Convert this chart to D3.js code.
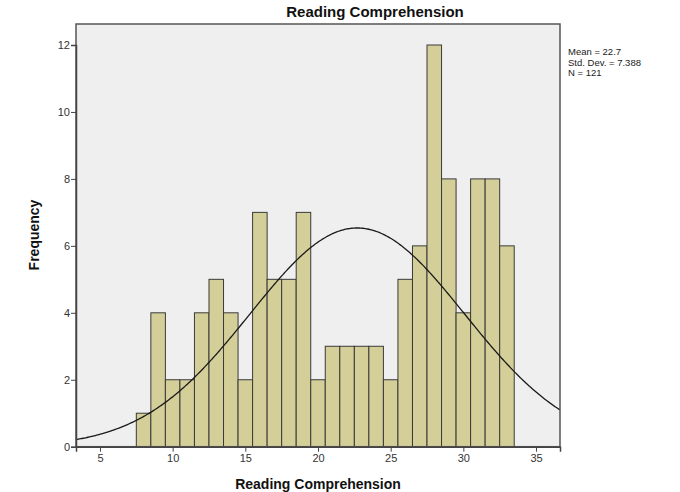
<!DOCTYPE html>
<html><head><meta charset="utf-8">
<script src="https://cdn.jsdelivr.net/npm/d3@7"></script>
<style>body{margin:0;background:#fff}svg{display:block}text{font-family:Arial,"Liberation Sans",sans-serif}</style>
</head><body><svg id="c" width="680" height="492"></svg>
<script>
const binCenters = [8,9,10,11,12,13,14,15,16,17,18,19,20,21,22,23,24,25,26,27,28,29,30,31,32,33];
const frequencies = [1,4,2,2,4,5,4,2,7,5,5,7,2,3,3,3,3,2,5,6,12,8,4,8,8,6];
const xTicks = [5,10,15,20,25,30,35];
const yTicks = [0,2,4,6,8,10,12];
const statLines = ["Mean = 22.7","Std. Dev. = 7.388","N = 121"];
const mean = 22.7, sd = 7.388, n = 121, binWidth = 1;

const svg = d3.select("#c");
const L = 76, R = 560, T = 24, B = 446.7;
const x = d3.scaleLinear().domain([3.35, 36.65]).range([L, R]);
const y = d3.scaleLinear().domain([0, 12]).range([B, 45]);

svg.append("rect").attr("x", L).attr("y", T).attr("width", R - L).attr("height", B - T)
  .attr("fill", "#efefef");

svg.selectAll("rect.bar").data(binCenters).enter().append("rect").attr("class","bar")
  .attr("x", (d) => x(d - binWidth/2))
  .attr("width", (d) => x(d + binWidth/2) - x(d - binWidth/2))
  .attr("y", (d, i) => y(frequencies[i]))
  .attr("height", (d, i) => y(0) - y(frequencies[i]))
  .attr("fill", "#d4cf98").attr("stroke", "#3a3a3a").attr("stroke-width", 1);

const pdf = (v) => n * binWidth * Math.exp(-0.5 * ((v - mean) / sd) ** 2) / (sd * Math.sqrt(2 * Math.PI));
const xs = d3.range(0, 401).map(i => 3.35 + (36.65 - 3.35) * i / 400);
svg.append("path").datum(xs)
  .attr("d", d3.line().x(d => x(d)).y(d => y(pdf(d))))
  .attr("fill", "none").attr("stroke", "#1a1a1a").attr("stroke-width", 1.3);

svg.append("rect").attr("x", L).attr("y", T).attr("width", R - L).attr("height", B - T)
  .attr("fill", "none").attr("stroke", "#555").attr("stroke-width", 1.5);

const xAxis = svg.append("g").attr("transform", `translate(0,${B})`)
  .call(d3.axisBottom(x).tickValues(xTicks).tickSize(5).tickPadding(3));
const yAxis = svg.append("g").attr("transform", `translate(${L},0)`)
  .call(d3.axisLeft(y).tickValues(yTicks).tickSize(5).tickPadding(1));
[xAxis, yAxis].forEach(g => {
  g.select(".domain").attr("stroke", "#444").attr("stroke-width", 1.5);
  g.selectAll(".tick line").attr("stroke", "#444");
  g.selectAll(".tick text").attr("fill", "#333").style("font-size", "11px");
});

svg.append("text").attr("x", 375).attr("y", 17).attr("text-anchor", "middle")
  .style("font-size", "15px").style("font-weight", "bold").attr("fill", "#111").text("Reading Comprehension");
svg.append("text").attr("x", 318).attr("y", 489).attr("text-anchor", "middle")
  .style("font-size", "14px").style("font-weight", "bold").attr("fill", "#111").text("Reading Comprehension");
svg.append("text").attr("transform", "translate(39,235) rotate(-90)").attr("text-anchor", "middle")
  .style("font-size", "14px").style("font-weight", "bold").attr("fill", "#111").text("Frequency");

svg.selectAll("text.stat").data(statLines).enter().append("text").attr("class","stat")
  .attr("x", 568).attr("y", (d, i) => 55 + i * 10.5)
  .style("font-size", "9.5px").attr("fill", "#222").text(d => d);
</script></body></html>
